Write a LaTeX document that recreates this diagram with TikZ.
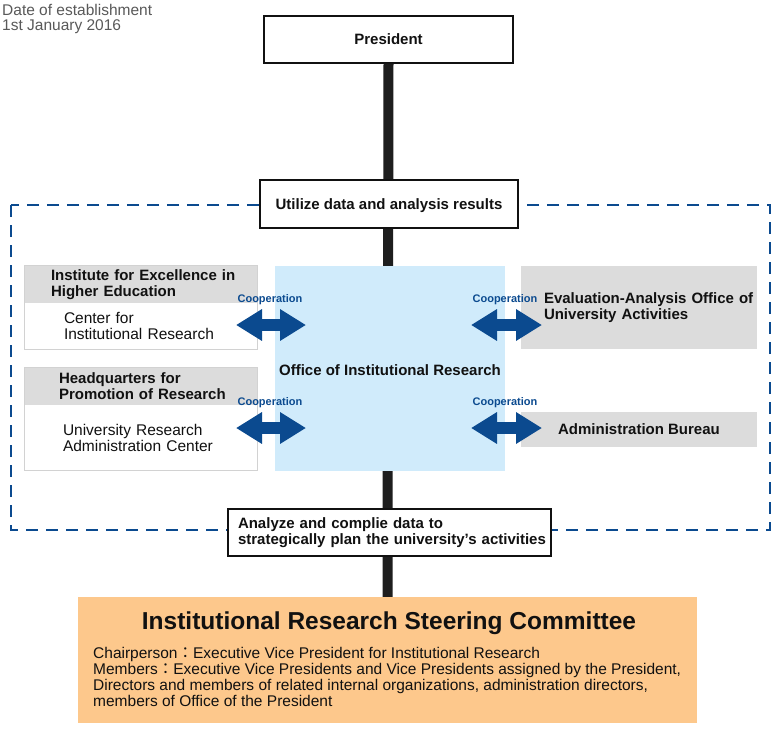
\documentclass[tikz,border=0pt]{standalone}
\usepackage{fontspec}
\setmainfont{Liberation Sans}
\newfontfamily\cjkfont{Noto Sans CJK JP}
\usetikzlibrary{arrows.meta}
\definecolor{irblue}{HTML}{0B4A8F}
\definecolor{ofcblue}{HTML}{D0EBFB}
\definecolor{headgray}{HTML}{DCDCDC}
\definecolor{boxgray}{HTML}{D2D2D2}
\definecolor{irorange}{HTML}{FDC88C}
\definecolor{inkblack}{HTML}{111111}
\definecolor{spine}{HTML}{1E1E1E}
\newcommand{\fcolon}{{\cjkfont ：}}
\tikzset{
  mainbox/.style={draw=inkblack, line width=1.1pt, fill=white, text=inkblack,
    font=\fontsize{15}{16}\selectfont\bfseries, inner sep=0pt},
  headbox/.style={fill=headgray, text=inkblack, align=left, inner ysep=0pt,
    font=\fontsize{15}{16}\selectfont\bfseries},
  bodybox/.style={fill=white, text=inkblack, align=left, inner ysep=0pt,
    font=\fontsize{15.5}{16}\selectfont},
  boxline/.style={draw=boxgray, line width=0.8pt},
  coop/.style={line width=12pt, irblue,
    {Triangle[length=26pt,width=30pt]}-{Triangle[length=26pt,width=30pt]}},
  cooplabel/.style={text=irblue, font=\fontsize{11}{12}\selectfont\bfseries, inner sep=0pt},
}
\begin{document}
\begin{tikzpicture}[x=1pt,y=-1pt]
\useasboundingbox[fill=white] (0,0) rectangle (780,740);

% top-left note
\node[anchor=west, align=left, text=black!65, inner sep=0pt,
  font=\fontsize{15.5}{15}\selectfont] (note) at (2,19)
  {Date of establishment\\1st January 2016};

% dashed frame
\draw[irblue, line width=2.8pt, dash pattern=on 12pt off 8pt] (11,205) rectangle (770,530);

% main boxes
\node[mainbox, minimum width=249pt, minimum height=47pt, text depth=1pt] (pres) at (388.5,39.5) {President};
\node[draw=none, minimum width=619pt, minimum height=126pt, fill=irorange, inner sep=0pt] (irsc) at (387.5,660) {};

% spine
\draw[spine, line width=10pt] (pres.south) -- (irsc.north);

\node[mainbox, minimum width=258pt, minimum height=48pt, text height=11pt, text depth=0pt] (util) at (389,204) {Utilize data and analysis results};
\node[mainbox, minimum width=323pt, minimum height=47pt, text width=303pt, inner xsep=10pt, align=left] (anl) at (389.5,532.5)
  {\mbox{Analyze and complie data to}\\\mbox{strategically plan the university’s activities}};

% office
\node[fill=ofcblue, minimum width=230pt, minimum height=205pt, inner sep=0pt, text=inkblack,
  font=\fontsize{15}{16}\selectfont\bfseries] (ofc) at (390,368.5) {};
\node[text=inkblack, inner sep=0pt, font=\fontsize{15}{16}\selectfont\bfseries] (ofctext) at (390,370)
  {Office of Institutional Research};

% left boxes
\node[headbox, minimum width=232pt, minimum height=37pt, inner xsep=26pt, text width=180pt] (h1) at (141,284.5)
  {\mbox{Institute for Excellence in}\\\mbox{Higher Education}};
\node[bodybox, minimum width=232pt, minimum height=46pt, inner xsep=39pt, text width=154pt] (b1) at (141,326)
  {\mbox{Center for}\\\mbox{Institutional Research}};
\draw[boxline] (h1.north west) rectangle (b1.south east);

\node[headbox, minimum width=232pt, minimum height=37pt, inner xsep=34pt, text width=164pt] (h2) at (141,386.5)
  {\mbox{Headquarters for}\\\mbox{Promotion of Research}};
\node[bodybox, minimum width=232pt, minimum height=65pt, inner xsep=38pt, text width=156pt] (b2) at (141,437.5)
  {\mbox{University Research}\\\mbox{Administration Center}};
\draw[boxline] (h2.north west) rectangle (b2.south east);

% right boxes
\node[headbox, minimum width=236pt, minimum height=83pt, inner xsep=23pt, text width=190pt] (e1) at (639,307.5)
  {\mbox{Evaluation-Analysis Office of}\\\mbox{University Activities}};
\node[headbox, minimum width=236pt, minimum height=35pt, inner sep=0pt, align=center] (e2) at (639,429.5)
  {Administration Bureau};

% cooperation arrows
\coordinate (c1a) at (236,325); \coordinate (c1b) at (306,325);
\coordinate (c2a) at (236,428); \coordinate (c2b) at (306,428);
\coordinate (c3a) at (471,325); \coordinate (c3b) at (542,325);
\coordinate (c4a) at (471,428); \coordinate (c4b) at (542,428);
\draw[coop] (c1a) -- (c1b);
\draw[coop] (c2a) -- (c2b);
\draw[coop] (c3a) -- (c3b);
\draw[coop] (c4a) -- (c4b);
\node[cooplabel] (l1) at (270,300) {Cooperation};
\node[cooplabel] (l2) at (270,403) {Cooperation};
\node[cooplabel] (l3) at (505,300) {Cooperation};
\node[cooplabel] (l4) at (505,403) {Cooperation};

% committee text
\node[text=inkblack, inner sep=0pt, font=\fontsize{24.5}{26}\selectfont\bfseries] (irsctitle) at (389,623)
  {Institutional Research Steering Committee};
\node[anchor=west, align=left, text=inkblack, inner sep=0pt, font=\fontsize{15.5}{16}\selectfont] (irscbody) at (93,677)
  {Chairperson\fcolon Executive Vice President for Institutional Research\\
   Members\fcolon Executive Vice Presidents and Vice Presidents assigned by the President,\\
   Directors and members of related internal organizations, administration directors,\\
   members of Office of the President};
\end{tikzpicture}
\end{document}
